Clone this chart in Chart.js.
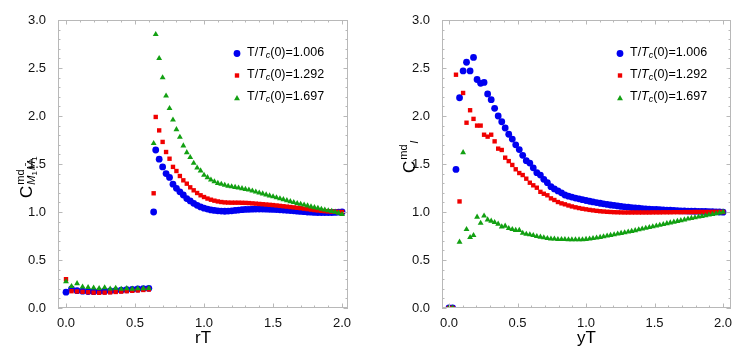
<!DOCTYPE html>
<html><head><meta charset="utf-8">
<script src="https://cdn.jsdelivr.net/npm/chart.js@4.4.1/dist/chart.umd.min.js"></script>
<style>
html,body{margin:0;padding:0;background:#fff;}
#wrap{position:relative;width:747px;height:361px;overflow:hidden;}
canvas{position:absolute;top:0;}
</style></head><body>
<div id="wrap">
<canvas id="c1" width="375" height="361" style="left:0;width:375px;height:361px"></canvas>
<canvas id="c2" width="372" height="361" style="left:375px;width:372px;height:361px"></canvas>
</div>
<script>
// ---------- data ----------
const temps = ["1.006", "1.292", "1.697"];
const majorTicks = [0, 0.5, 1.0, 1.5, 2.0];
const yMajorTicks = [0, 0.5, 1.0, 1.5, 2.0, 2.5, 3.0];

const leftX = [0.0,0.04,0.08,0.12,0.16,0.20,0.24,0.28,0.32,0.36,0.40,0.44,0.48,0.52,0.56,0.60,
  0.635,0.65,0.675,0.70,0.725,0.75,0.775,0.80,0.825,0.85,0.875,0.90,0.925,0.95,0.975,1.00,
  1.025,1.05,1.075,1.10,1.125,1.15,1.175,1.20,1.225,1.25,1.275,1.30,1.325,1.35,1.375,1.40,
  1.425,1.45,1.475,1.50,1.525,1.55,1.575,1.60,1.625,1.65,1.675,1.70,1.725,1.75,1.775,1.80,
  1.825,1.85,1.875,1.90,1.925,1.95,1.975,2.00];
const leftBlue = [0.165,0.20,0.18,0.175,0.172,0.17,0.172,0.175,0.178,0.182,0.186,0.19,0.194,0.198,0.202,0.205,
  1.00,1.646,1.55,1.47,1.40,1.36,1.29,1.247,1.21,1.177,1.14,1.115,1.09,1.07,1.053,1.04,
  1.03,1.022,1.016,1.012,1.01,1.008,1.01,1.012,1.016,1.02,1.024,1.027,1.028,1.029,1.03,1.03,
  1.03,1.029,1.028,1.027,1.025,1.023,1.021,1.018,1.015,1.012,1.009,1.006,1.003,1.0,0.998,0.996,
  0.995,0.994,0.994,0.994,0.995,0.996,0.998,1.0];
const leftRed = [0.30,0.175,0.172,0.168,0.164,0.16,0.158,0.16,0.163,0.167,0.171,0.175,0.179,0.183,0.188,0.193,
  1.195,1.99,1.85,1.73,1.625,1.555,1.47,1.427,1.375,1.33,1.295,1.257,1.226,1.198,1.174,1.156,
  1.14,1.128,1.118,1.11,1.104,1.10,1.098,1.097,1.097,1.097,1.096,1.095,1.093,1.09,1.087,1.084,
  1.081,1.078,1.075,1.072,1.068,1.064,1.06,1.056,1.052,1.048,1.044,1.04,1.035,1.03,1.025,1.02,
  1.016,1.012,1.009,1.006,1.004,1.002,1.001,1.0];
const leftGreen = [0.275,0.225,0.255,0.22,0.215,0.21,0.205,0.212,0.2,0.207,0.197,0.203,0.198,0.202,0.203,0.206,
  1.715,2.85,2.60,2.40,2.21,2.08,1.96,1.86,1.78,1.69,1.62,1.57,1.51,1.46,1.43,1.385,
  1.36,1.335,1.316,1.30,1.29,1.28,1.27,1.264,1.258,1.252,1.245,1.237,1.23,1.22,1.21,1.20,
  1.19,1.18,1.17,1.16,1.15,1.14,1.13,1.12,1.11,1.10,1.09,1.083,1.075,1.065,1.055,1.047,
  1.04,1.03,1.022,1.015,1.008,1.0,0.99,0.976];

const rightX = [0,0.026,0.051,0.077,0.103,0.128,0.154,0.179,0.205,0.231,0.256,0.282,0.308,0.333,0.359,0.385,
  0.41,0.436,0.462,0.487,0.513,0.538,0.564,0.59,0.615,0.641,0.667,0.692,0.718,0.744,0.769,0.795,
  0.821,0.846,0.872,0.897,0.923,0.949,0.974,1.0,1.026,1.051,1.077,1.103,1.128,1.154,1.179,1.205,
  1.231,1.256,1.282,1.308,1.333,1.359,1.385,1.41,1.436,1.462,1.487,1.513,1.538,1.564,1.59,1.615,
  1.641,1.667,1.692,1.718,1.744,1.769,1.795,1.821,1.846,1.872,1.897,1.923,1.949,1.974,2.0];
const rightBlue = [0,0,1.444,2.19,2.47,2.56,2.47,2.61,2.38,2.34,2.35,2.23,2.17,2.08,2.00,1.94,
  1.875,1.81,1.76,1.70,1.65,1.59,1.535,1.51,1.46,1.41,1.385,1.34,1.305,1.264,1.24,1.22,
  1.20,1.177,1.165,1.155,1.145,1.137,1.128,1.12,1.112,1.105,1.098,1.091,1.085,1.079,1.073,1.068,
  1.063,1.058,1.054,1.05,1.046,1.042,1.039,1.036,1.033,1.03,1.028,1.026,1.024,1.022,1.02,1.018,
  1.016,1.014,1.012,1.011,1.01,1.009,1.008,1.007,1.006,1.005,1.004,1.003,1.002,1.0,0.998];
const rightRed = [0,0,2.43,1.11,2.24,1.93,2.06,1.97,1.90,1.90,1.805,1.785,1.805,1.736,1.66,1.646,
  1.566,1.53,1.49,1.445,1.406,1.385,1.347,1.305,1.278,1.253,1.21,1.19,1.174,1.142,1.125,1.104,
  1.09,1.08,1.068,1.058,1.049,1.041,1.034,1.028,1.022,1.017,1.012,1.008,1.005,1.002,1.0,0.998,
  0.997,0.996,0.995,0.995,0.995,0.995,0.995,0.995,0.995,0.995,0.996,0.996,0.996,0.997,0.997,0.997,
  0.998,0.998,0.998,0.999,0.999,0.999,1.0,1.0,1.0,1.0,1.0,1.001,1.001,1.001,1.0];
const rightGreen = [0,0,null,0.6875,1.62,0.82,0.736,0.757,0.948,0.885,0.96,0.92,0.906,0.892,0.875,0.847,
  0.854,0.83,0.82,0.81,0.81,0.78,0.77,0.765,0.757,0.747,0.74,0.733,0.726,0.72,0.72,0.715,
  0.715,0.715,0.713,0.712,0.712,0.712,0.713,0.716,0.72,0.725,0.73,0.737,0.744,0.751,0.758,0.765,
  0.772,0.779,0.786,0.793,0.80,0.808,0.816,0.824,0.832,0.84,0.848,0.856,0.864,0.872,0.88,0.888,
  0.896,0.904,0.912,0.92,0.928,0.935,0.942,0.949,0.956,0.963,0.97,0.977,0.984,0.991,1.0];

// ---------- styling ----------
const FONT = '"Liberation Sans", Arial, Helvetica, sans-serif';
const COLORS = ['#0000f0', '#f00000', '#12a012'];
const STYLES = ['circle', 'rect', 'triangle'];
const RADII = [3.4, 3.1, 3.4];
const FRAME = '#b8b8b8';

function pts(xs, ys) {
  const out = [];
  xs.forEach((x, i) => { if (ys[i] !== null && ys[i] !== undefined) out.push({x, y: ys[i]}); });
  return out;
}

function runs(ctx, items, x, y) {
  let cx = x;
  for (const it of items) {
    ctx.font = it.f;
    ctx.fillText(it.t, cx, y + (it.dy || 0));
    cx += ctx.measureText(it.t).width;
  }
  return cx;
}

function marker(ctx, style, x, y, r, color) {
  ctx.fillStyle = color;
  ctx.beginPath();
  if (style === 'circle') { ctx.arc(x, y, r, 0, Math.PI * 2); }
  else if (style === 'rect') { const s = r * Math.SQRT1_2; ctx.rect(x - s, y - s, 2 * s, 2 * s); }
  else {
    let a = 0;
    ctx.moveTo(x + Math.sin(a) * r, y - Math.cos(a) * r);
    a += 2 * Math.PI / 3; ctx.lineTo(x + Math.sin(a) * r, y - Math.cos(a) * r);
    a += 2 * Math.PI / 3; ctx.lineTo(x + Math.sin(a) * r, y - Math.cos(a) * r);
    ctx.closePath();
  }
  ctx.fill();
}

const decor = {
  id: 'decor',
  afterDraw(chart, args, o) {
    const {ctx, chartArea: a, scales: {x, y}} = chart;
    ctx.save();
    // frame
    ctx.strokeStyle = FRAME; ctx.lineWidth = 1;
    ctx.strokeRect(a.left + 0.5, a.top + 0.5, a.right - a.left - 1, a.bottom - a.top - 1);
    // ticks (inward on all four sides)
    ctx.beginPath();
    for (let i = 0; i <= 20; i++) {
      const v = i / 10;
      const L = (i % 5 === 0) ? 4.5 : 2.5;
      const px = Math.round(x.getPixelForValue(v)) + 0.5;
      ctx.moveTo(px, a.bottom); ctx.lineTo(px, a.bottom - L);
      ctx.moveTo(px, a.top); ctx.lineTo(px, a.top + L);
    }
    for (let i = 0; i <= 30; i++) {
      const v = i / 10;
      const L = (i % 5 === 0) ? 4.5 : 2.5;
      const py = Math.round(y.getPixelForValue(v)) + 0.5;
      ctx.moveTo(a.left, py); ctx.lineTo(a.left + L, py);
      ctx.moveTo(a.right, py); ctx.lineTo(a.right - L, py);
    }
    ctx.stroke();

    // x title
    ctx.fillStyle = '#000';
    ctx.font = `17px ${FONT}`;
    ctx.textAlign = 'center'; ctx.textBaseline = 'middle';
    ctx.fillText(o.xTitle, (a.left + a.right) / 2, 338);

    // y title (rotated)
    ctx.textAlign = 'left'; ctx.textBaseline = 'alphabetic';
    ctx.save();
    ctx.translate(o.yt[0], o.yt[1]);
    ctx.rotate(-Math.PI / 2);
    ctx.font = `17px ${FONT}`;
    ctx.fillText('C', 0, 0);
    const w = ctx.measureText('C').width + 1;
    ctx.font = `11px ${FONT}`;
    ctx.fillText('md', w, -8);
    const mdw = ctx.measureText('md').width;
    if (o.left) {
      runs(ctx, [
        {t: 'M', f: `italic 11px ${FONT}`},
        {t: '1', f: `8px ${FONT}`, dy: 2},
        {t: ' ', f: `4px ${FONT}`},
        {t: 'M\u0304', f: `italic 11px ${FONT}`},
        {t: '1', f: `8px ${FONT}`, dy: 2}
      ], w, 3);
    } else {
      runs(ctx, [{t: 'l', f: `italic 11px ${FONT}`}], w + mdw + 1, 3);
    }
    ctx.restore();

    // legend
    const lx = a.right - 111;
    const rowsY = [52.5, 74.5, 96.5];
    temps.forEach((t, i) => {
      const my = rowsY[i] + (i === 2 ? 2 : 1);
      marker(ctx, STYLES[i], lx, my, RADII[i], COLORS[i]);
      ctx.fillStyle = '#000';
      ctx.textBaseline = 'middle';
      runs(ctx, [
        {t: 'T/', f: `12.5px ${FONT}`},
        {t: 'T', f: `italic 12.5px ${FONT}`},
        {t: 'c', f: `italic 9px ${FONT}`, dy: 3},
        {t: '(0)=' + t, f: `12.5px ${FONT}`}
      ], lx + 10, rowsY[i]);
    });
    ctx.restore();
  }
};

function makeChart(id, xs, series, opt) {
  const datasets = series.map((ys, i) => ({
    label: 'T/Tc(0)=' + temps[i],
    data: pts(xs, ys),
    pointStyle: STYLES[i],
    pointRadius: RADII[i],
    pointHoverRadius: RADII[i],
    backgroundColor: COLORS[i],
    borderColor: COLORS[i],
    borderWidth: 0,
    showLine: false,
    clip: 0,
    order: 3 - i
  }));
  return new Chart(document.getElementById(id), {
    type: 'scatter',
    data: {datasets},
    plugins: [decor],
    options: {
      responsive: false,
      animation: false,
      events: [],
      layout: {padding: {top: 20, right: opt.padRight, bottom: 0, left: 0}},
      plugins: {
        legend: {display: false},
        tooltip: {enabled: false},
        decor: {xTitle: opt.xTitle, yt: opt.yt, left: opt.left}
      },
      scales: {
        x: {
          type: 'linear', min: opt.xmin, max: opt.xmax,
          afterBuildTicks: s => { s.ticks = majorTicks.map(v => ({value: v})); },
          afterFit: s => { s.height = 53; },
          grid: {display: false},
          border: {display: false},
          ticks: {padding: 0, color: '#111', font: {family: FONT, size: 13},
                  callback: v => Number(v).toFixed(1), maxRotation: 0}
        },
        y: {
          type: 'linear', min: 0, max: 3.0,
          afterBuildTicks: s => { s.ticks = yMajorTicks.map(v => ({value: v})); },
          afterFit: s => { s.width = opt.yWidth; },
          grid: {display: false},
          border: {display: false},
          ticks: {padding: 4, color: '#111', font: {family: FONT, size: 13},
                  callback: v => Number(v).toFixed(1)}
        }
      }
    }
  });
}

makeChart('c1', leftX, [leftBlue, leftRed, leftGreen],
  {xmin: -0.058, xmax: 2.043, padRight: 27, yWidth: 58, xTitle: 'rT', yt: [32, 198], left: true});
makeChart('c2', rightX, [rightBlue, rightRed, rightGreen],
  {xmin: -0.051, xmax: 2.058, padRight: 16, yWidth: 67, xTitle: 'yT', yt: [40, 173], left: false});
</script>
</body></html>
